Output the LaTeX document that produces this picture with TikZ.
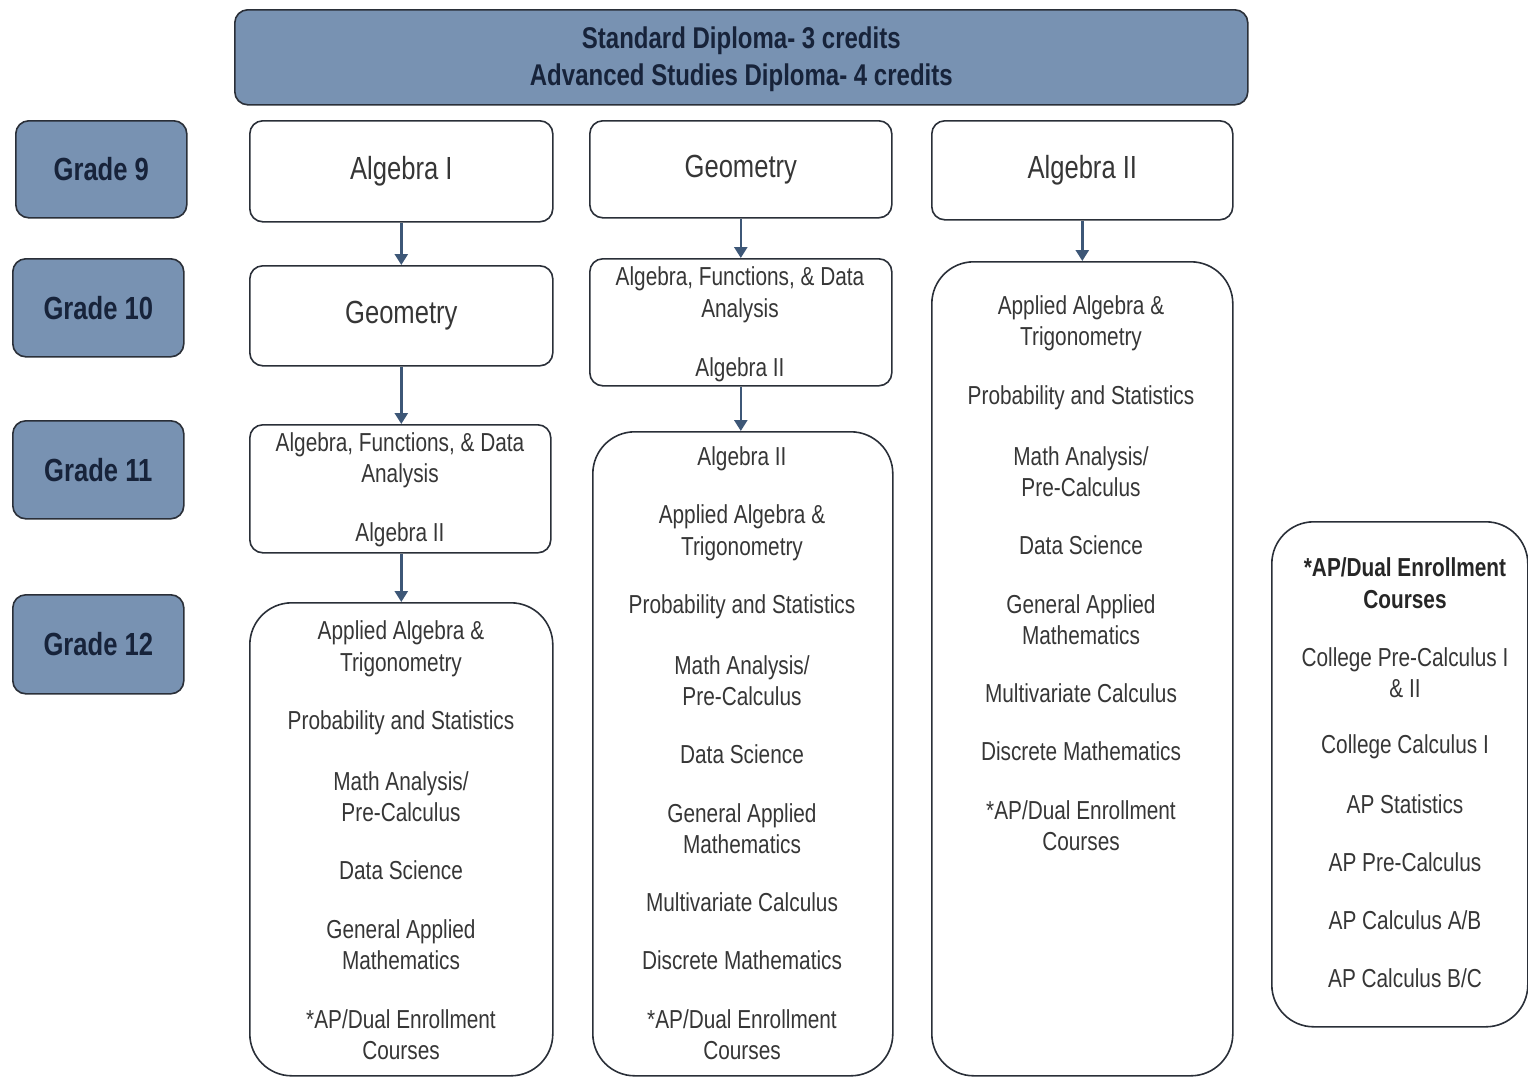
\documentclass[tikz,border=0pt]{standalone}
\usepackage{fontspec}
\setmainfont{Liberation Sans}[FakeStretch=0.8]
\usetikzlibrary{arrows.meta}
\definecolor{gblue}{HTML}{7892B2}
\definecolor{gline}{HTML}{2A2F38}
\definecolor{arrowc}{HTML}{3D5777}
\definecolor{txt}{HTML}{363636}
\definecolor{navy}{HTML}{17233A}
\begin{document}
\begin{tikzpicture}[x=1pt,y=-1pt,
  box/.style={draw=gline, line width=1.6pt, rounded corners=13pt, inner sep=0pt, anchor=north west, text=txt, font=\fontsize{32}{40}\selectfont},
  bigbox/.style={box, rounded corners=42pt},
  bluebox/.style={box, fill=gblue, text=navy, font=\bfseries\fontsize{32}{38}\selectfont},
  lbl/.style={text=txt, font=\fontsize{26}{31.5}\selectfont, align=center, inner sep=0pt, yshift=-2.5pt},
  arr/.style={draw=arrowc, line width=2.6pt, -{Triangle[length=11pt,width=13pt]}}
]
\useasboundingbox (0,0) rectangle (1528,1076);
% header
\node[bluebox, minimum width=1013pt, minimum height=95pt, align=center, font=\bfseries\fontsize{30}{37}\selectfont] (hdr) at (234,9) {};
\node[text=navy, align=center, inner sep=0pt, font=\bfseries\fontsize{30}{37}\selectfont] (hdrt) at ([yshift=-2pt]hdr.center) {Standard Diploma- 3 credits\\Advanced Studies Diploma- 4 credits};
% grade boxes
\node[bluebox, minimum width=171pt, minimum height=97pt] (g9) at (15,120) {Grade 9};
\node[bluebox, minimum width=171pt, minimum height=98pt] (g10) at (12,258) {Grade 10};
\node[bluebox, minimum width=171pt, minimum height=98pt] (g11) at (12,420) {Grade 11};
\node[bluebox, minimum width=171pt, minimum height=99pt] (g12) at (12,594) {Grade 12};
% column 1
\node[box, minimum width=303pt, minimum height=101pt] (a1) at (249,120) {Algebra I};
\node[box, minimum width=303pt, minimum height=100pt] (a2) at (249,265) {Geometry};
\node[box, minimum width=301pt, minimum height=128pt] (a3) at (249,424) {};
\node[bigbox, minimum width=303pt, minimum height=473pt] (a4) at (249,602) {};
% column 2
\node[box, minimum width=302pt, minimum height=97pt] (b1) at (589,120) {Geometry};
\node[box, minimum width=302pt, minimum height=127pt] (b2) at (589,258) {};
\node[bigbox, minimum width=300pt, minimum height=644pt] (b3) at (592,431) {};
% column 3
\node[box, minimum width=301pt, minimum height=99pt] (c1) at (931,120) {Algebra II};
\node[bigbox, minimum width=301pt, minimum height=814pt] (c2) at (931,261) {};
% right box
\node[bigbox, minimum width=256pt, minimum height=505pt] (d1) at (1271,521) {};
% arrows
\draw[arr] (a1.south) -- (a2.north);
\draw[arr] (a2.south) -- (a2.south |- a3.north);
\draw[arr] (a3.south -| a2.south) -- (a4.north);
\draw[arr] (b1.south) -- (b1.south |- b2.north);
\draw[arr] (b2.south) -- (b2.south |- b3.north);
\draw[arr] (c1.south) -- (c2.north);
% texts column 1
\node[lbl] (a3t1) at (400,458) {Algebra, Functions, \& Data\\Analysis};
\node[lbl] (a3t2) at (400,532) {Algebra II};
\foreach \t/\y [count=\i] in {{Applied Algebra \&\\Trigonometry}/646.5, {Probability and Statistics}/720, {Math Analysis/\\Pre-Calculus}/794, {Data Science}/868, {General Applied\\Mathematics}/942, {*AP/Dual Enrollment\\Courses}/1032}
  \node[lbl] (a4t\i) at (401,\y) {\t};
% texts column 2
\node[lbl] (b2t1) at (740,292.5) {Algebra, Functions, \& Data\\Analysis};
\node[lbl] (b2t2) at (740,367) {Algebra II};
\foreach \t/\y [count=\i] in {{Algebra II}/456, {Applied Algebra \&\\Trigonometry}/530.5, {Probability and Statistics}/604, {Math Analysis/\\Pre-Calculus}/678, {Data Science}/752, {General Applied\\Mathematics}/826, {Multivariate Calculus}/900, {Discrete Mathematics}/958, {*AP/Dual Enrollment\\Courses}/1032}
  \node[lbl] (b3t\i) at (742,\y) {\t};
% texts column 3
\foreach \t/\y [count=\i] in {{Applied Algebra \&\\Trigonometry}/321, {Probability and Statistics}/395, {Math Analysis/\\Pre-Calculus}/469, {Data Science}/543, {General Applied\\Mathematics}/617, {Multivariate Calculus}/691, {Discrete Mathematics}/749, {*AP/Dual Enrollment\\Courses}/823}
  \node[lbl] (c2t\i) at (1081,\y) {\t};
% right box texts
\node[lbl, font=\bfseries\fontsize{26}{31.5}\selectfont, text=black!85] (d1t0) at (1405,580.5) {*AP/Dual Enrollment\\Courses};
\foreach \t/\y [count=\i] in {{College Pre-Calculus I\\\& II}/670, {College Calculus I}/744, {AP Statistics}/802, {AP Pre-Calculus}/860, {AP Calculus A/B}/918, {AP Calculus B/C}/976}
  \node[lbl] (d1t\i) at (1405,\y) {\t};
\end{tikzpicture}
\end{document}
